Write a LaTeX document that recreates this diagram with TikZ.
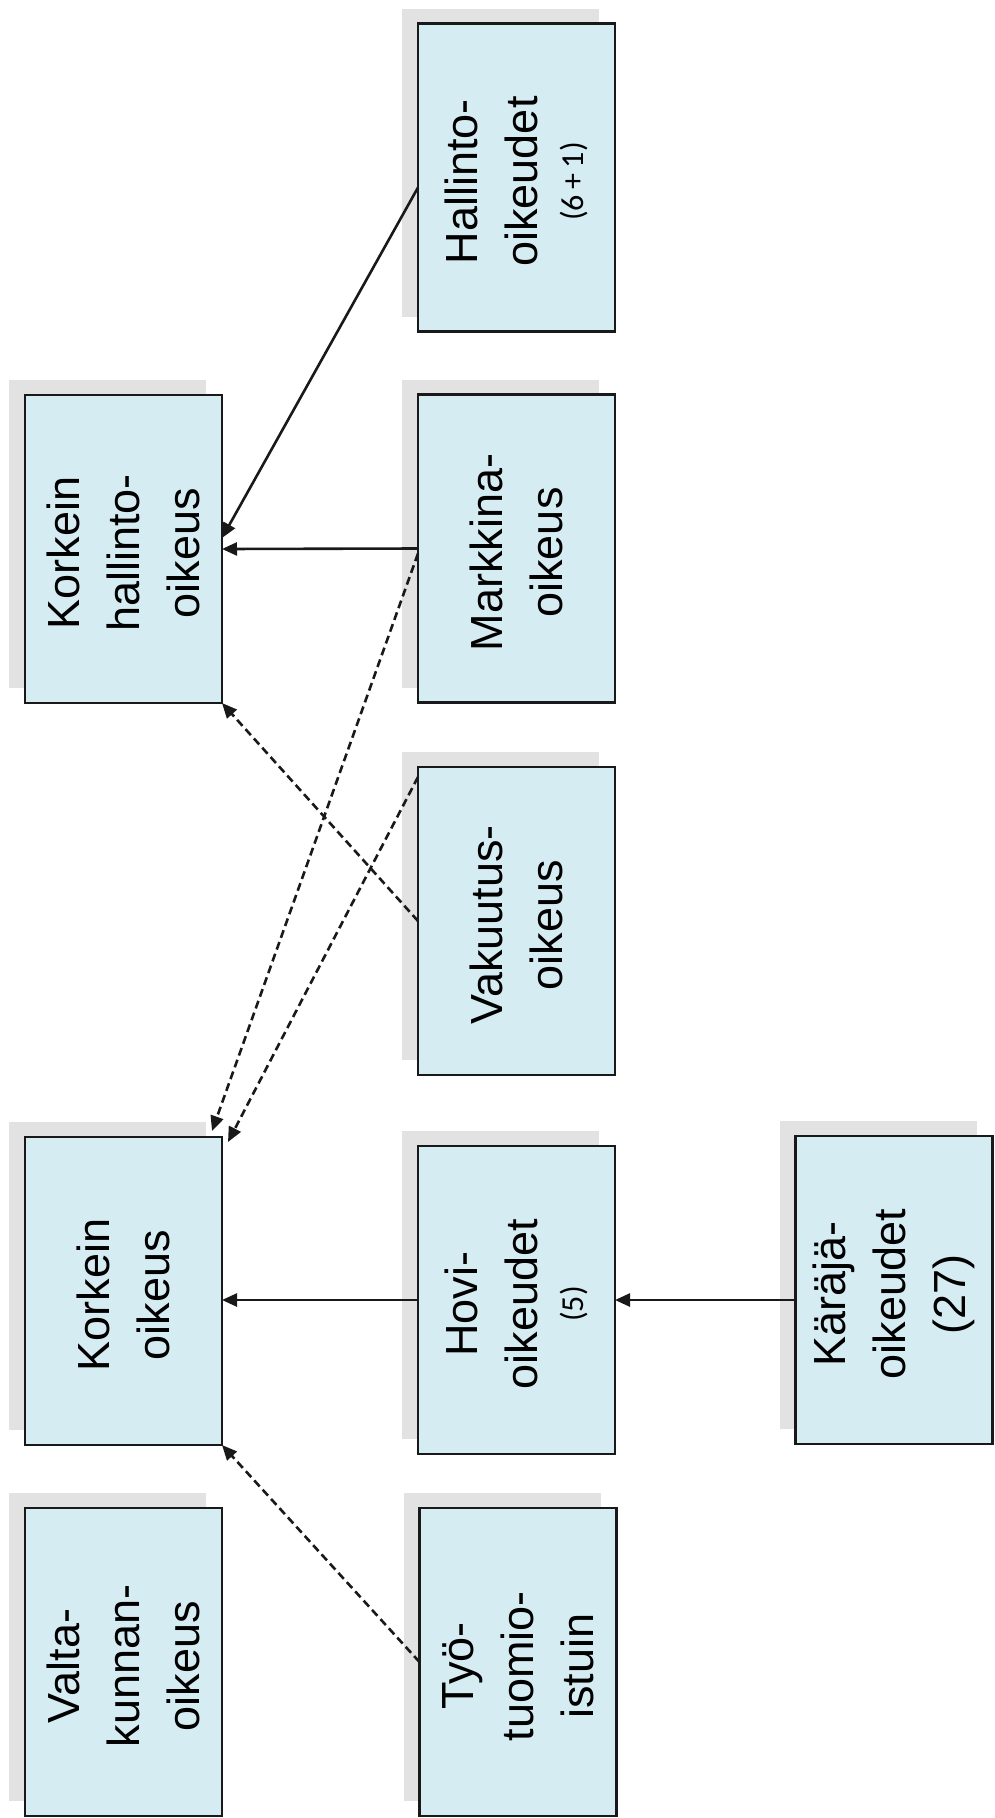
\documentclass[tikz,border=0pt]{standalone}
\usepackage{fontspec}
\setmainfont{Liberation Sans}
\newfontfamily\smallnumfont{Carlito}
\usetikzlibrary{arrows.meta,calc}
\definecolor{boxfill}{RGB}{214,236,243}
\definecolor{shadowgray}{RGB}{226,226,226}
\definecolor{edgecol}{RGB}{25,25,25}
\tikzset{
  court/.style={draw=edgecol, line width=2.6pt, fill=boxfill, minimum width=197pt, minimum height=308pt, inner sep=0pt, outer sep=0pt},
  courtshadow/.style={fill=shadowgray, draw=none},
  courttext/.style={rotate=90, align=center, font=\fontsize{45}{60}\selectfont, inner sep=0pt},
  link/.style={line width=2.6pt, draw=edgecol, -{Triangle[length=15pt,width=13pt]}},
  appeal/.style={link, dash pattern=on 8pt off 4.5pt},
}
\newcommand\drawcourt[4]{%
  \fill[courtshadow] (#2-114.5,#3-169) rectangle ++(197,308);
  \node[court] (#1) at (#2,#3) {};
  \node[courttext] (#1-t) at (#2,#3+4) {#4};
}
\begin{document}
\begin{tikzpicture}[x=1pt,y=-1pt]
\useasboundingbox (0,0) rectangle (995,1818);
\drawcourt{kho}{123.5}{549}{Korkein\\hallinto-\\oikeus}
\drawcourt{hal}{516.5}{177.5}{Hallinto-\\oikeudet\\[-14pt]{\smallnumfont\fontsize{32}{36}\selectfont (6\,+\,1)}}
\drawcourt{mar}{516.5}{548.5}{Markkina-\\oikeus}
\drawcourt{vak}{516.5}{921}{Vakuutus-\\oikeus}
\drawcourt{ko}{123.5}{1291}{Korkein\\oikeus}
\drawcourt{hov}{516.5}{1300}{Hovi-\\oikeudet\\[-14pt]{\smallnumfont\fontsize{32}{36}\selectfont (5)}}
\drawcourt{kar}{894}{1290}{Käräjä-\\oikeudet\\(27)}
\drawcourt{val}{123.5}{1662}{Valta-\\kunnan-\\oikeus}
\drawcourt{tyo}{518}{1662}{Työ-\\tuomio-\\istuin}
\draw[link] ($(hal.west)+(0,10)$) -- ($(kho.east)+(0,-11)$);
\draw[link] (mar.west) -- (kho.east);
\draw[appeal] ($(mar.west)+(0,5)$) -- ($(ko.north east)+(-10,-6)$);
\draw[appeal] (vak.west) -- (kho.south east);
\draw[appeal] ($(vak.north west)+(0,10)$) -- ($(ko.north east)+(6,5)$);
\draw[link] (hov.west) -- (hov.west -| ko.east);
\draw[link] (hov.east -| kar.west) -- (hov.east);
\draw[appeal] (tyo.west) -- (ko.south east);
\end{tikzpicture}
\end{document}
